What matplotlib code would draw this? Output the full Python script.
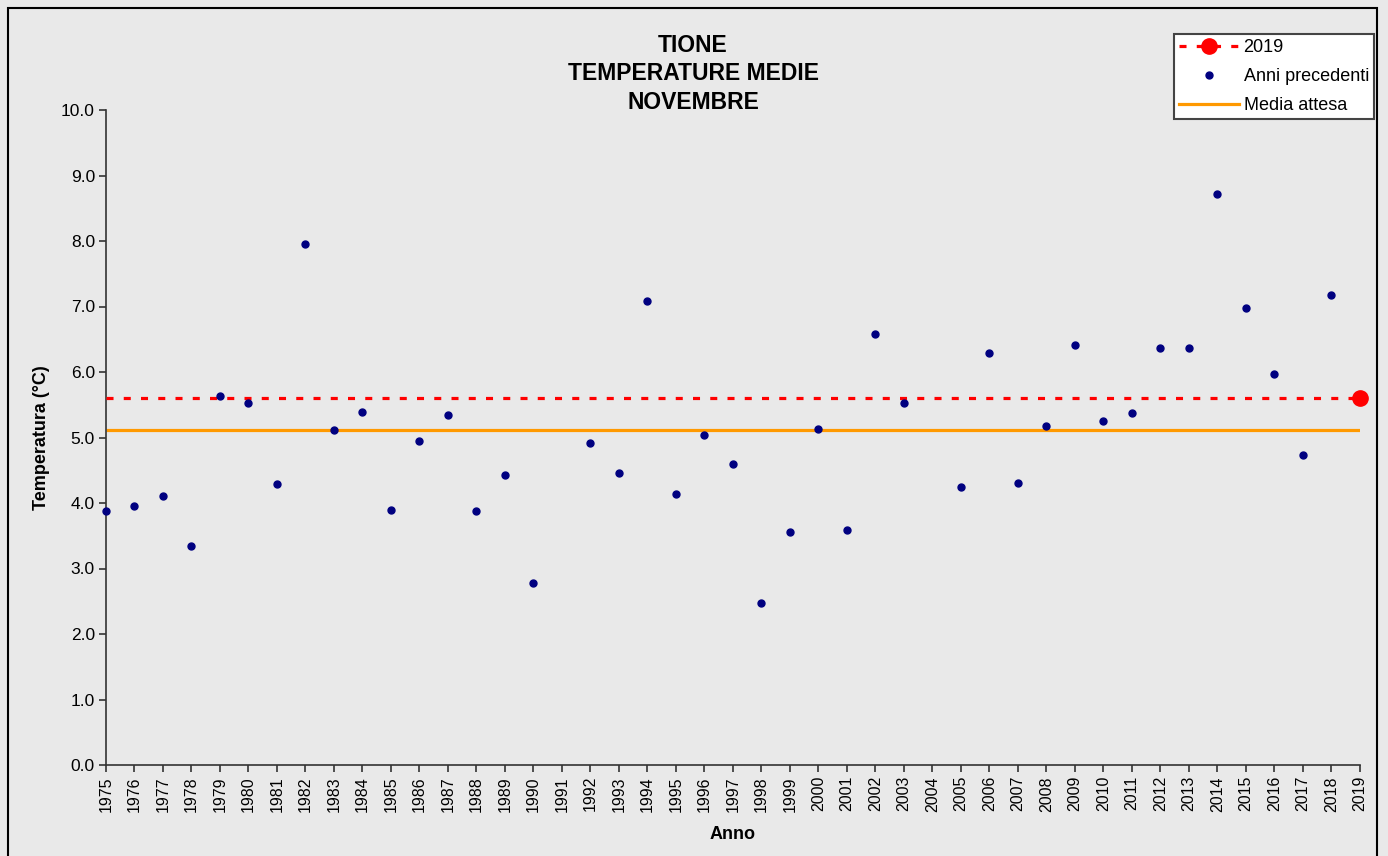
import matplotlib

matplotlib.use("Agg")
import matplotlib.pyplot as plt
from matplotlib.patches import Rectangle
from matplotlib.lines import Line2D

plt.rcParams["font.family"] = ["Liberation Sans", "DejaVu Sans"]

# anni precedenti (1991 e 2004 mancanti)
years = [1975, 1976, 1977, 1978, 1979, 1980, 1981, 1982, 1983, 1984,
         1985, 1986, 1987, 1988, 1989, 1990, 1992, 1993, 1994, 1995,
         1996, 1997, 1998, 1999, 2000, 2001, 2002, 2003, 2005, 2006,
         2007, 2008, 2009, 2010, 2011, 2012, 2013, 2014, 2015, 2016,
         2017, 2018]
temps = [3.88, 3.96, 4.11, 3.35, 5.64, 5.52, 4.29, 7.95, 5.12, 5.39,
         3.89, 4.95, 5.34, 3.88, 4.43, 2.78, 4.91, 4.46, 7.08, 4.13,
         5.04, 4.59, 2.48, 3.56, 5.13, 3.59, 6.58, 5.53, 4.24, 6.29,
         4.31, 5.18, 6.41, 5.25, 5.37, 6.37, 6.37, 8.72, 6.98, 5.97,
         4.73, 7.18]

current_year = 2019
current_temp = 5.60
media_attesa = 5.11

tick_years = list(range(1975, 2020))
y_ticks = [0.0, 1.0, 2.0, 3.0, 4.0, 5.0, 6.0, 7.0, 8.0, 9.0, 10.0]

BG = "#e9e9e9"
NAVY = "#000080"
RED = "#ff0000"
ORANGE = "#ff9900"

fig = plt.figure(figsize=(13.88, 8.56), dpi=100)
fig.patch.set_facecolor(BG)

W, H = 1388, 856
ax = fig.add_axes([106 / W, 1 - 765 / H, (1360 - 106) / W, (765 - 110) / H])
ax.set_facecolor("none")

# media attesa
ax.plot([tick_years[0], tick_years[-1]], [media_attesa, media_attesa],
        color=ORANGE, linewidth=2.3, solid_capstyle="butt", zorder=2)

# linea 2019 tratteggiata
ax.plot([tick_years[0], current_year], [current_temp, current_temp],
        color=RED, linewidth=2.3, linestyle=(0, (2.2, 3.2)), zorder=3)
ax.plot([current_year], [current_temp], marker="o", markersize=11,
        color=RED, linestyle="none", zorder=5, clip_on=False)

ax.plot(years, temps, marker="o", markersize=5, color=NAVY,
        linestyle="none", zorder=4, clip_on=False)

ax.set_xlim(1975, 2019)
ax.set_ylim(0, 10)
ax.set_xticks(tick_years)
ax.set_xticklabels([str(y) for y in tick_years], rotation=90, fontsize=11.5)
ax.set_yticks(y_ticks)
ax.set_yticklabels([f"{v:.1f}" for v in y_ticks], fontsize=12.5)

for side in ["top", "right"]:
    ax.spines[side].set_visible(False)
for side in ["left", "bottom"]:
    ax.spines[side].set_color("#333333")
    ax.spines[side].set_linewidth(1.2)
ax.tick_params(axis="both", direction="out", length=5, width=1.2,
               color="#333333", pad=3)

ax.set_xlabel("Anno", fontsize=13, fontweight="bold", labelpad=10)
ax.set_ylabel("Temperatura (°C)", fontsize=13, fontweight="bold", labelpad=8)

fig.text(693 / W, 1 - 74 / H, "TIONE\nTEMPERATURE MEDIE\nNOVEMBRE",
         ha="center", va="center", fontsize=16.5, fontweight="bold",
         linespacing=1.3)

handles = [
    Line2D([], [], color=RED, linewidth=2.3, linestyle=(0, (2.2, 3.2)),
           marker="o", markersize=11, markevery=[1]),
    Line2D([], [], color=NAVY, marker="o", markersize=5, linestyle="none"),
    Line2D([], [], color=ORANGE, linewidth=2.3),
]
leg = fig.legend(handles, ["2019", "Anni precedenti", "Media attesa"],
                 loc="upper left", bbox_to_anchor=(1174 / W, 1 - 34 / H),
                 bbox_transform=fig.transFigure, fontsize=13,
                 handlelength=3.3, handletextpad=0.25, labelspacing=0.65,
                 borderpad=0.3, borderaxespad=0, fancybox=False,
                 framealpha=1, edgecolor="#444444", facecolor="white")
leg.get_frame().set_linewidth(1.5)

# cornice esterna
fig.add_artist(Rectangle((8 / W, -0.01), (1377 - 8) / W, 1 - 8 / H + 0.01,
                         transform=fig.transFigure, fill=False,
                         edgecolor="black", linewidth=1.5, zorder=10))

fig.savefig("out.png", dpi=100, facecolor=BG)
